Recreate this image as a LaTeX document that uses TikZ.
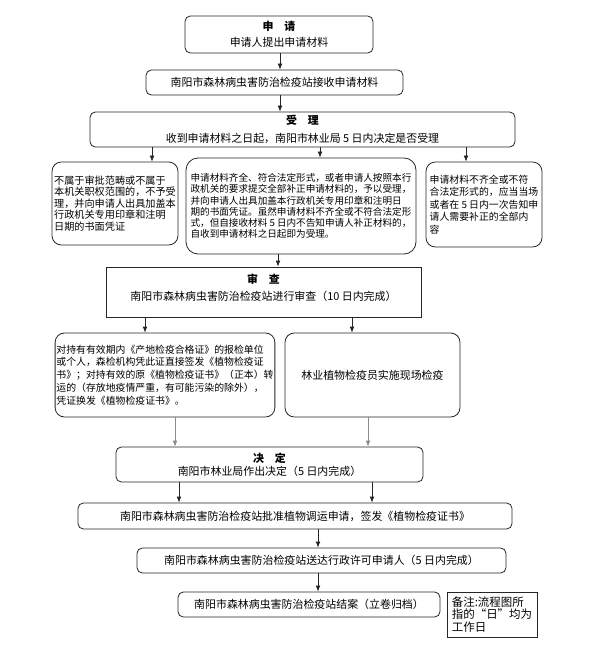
\documentclass[tikz,border=0pt]{standalone}
\usepackage{fontspec}
\setmainfont{Noto Sans CJK SC}
\usetikzlibrary{arrows.meta,positioning,calc}
\definecolor{ink}{HTML}{262626}
\definecolor{pale}{HTML}{8C8C8C}

\begin{document}
\begin{tikzpicture}[x=0.75pt,y=-0.75pt,
  box/.style={draw=ink,line width=0.6pt,rounded corners=4pt,align=center,inner sep=1pt,font=\fontsize{8.2}{12}\selectfont},
  note/.style={box,align=left,rounded corners=7pt,font=\fontsize{7.4}{8.7}\selectfont},
  plain/.style={box,rounded corners=0pt},
  link/.style={draw=ink,line width=0.6pt,-{Latex[length=4.5pt,width=3.6pt]}},
  ghost/.style={link,draw=pale}]
\useasboundingbox (0,0) rectangle (600,652);
% application and acceptance
\node[box,minimum width=141pt,minimum height=27.75pt] (shenqing) at (279,34.5) {\textbf{申\hspace{1em}请}\\申请人提出申请材料};
\node[box,minimum width=192.75pt,minimum height=18.75pt] (jieshou) at (274.5,82.5) {南阳市森林病虫害防治检疫站接收申请材料};
\node[box,minimum width=318.75pt,minimum height=26.25pt,font=\fontsize{8.2}{13.5}\selectfont] (shouli) at (302.5,129.5) {\textbf{受\hspace{1em}理}\\收到申请材料之日起，南阳市林业局 5 日内决定是否受理};
\node[note,minimum width=94.5pt,minimum height=62.25pt,font=\fontsize{7.6}{8.7}\selectfont] (buyu) at (115,203.5) {不属于审批范畴或不属于\\本机关职权范围的，不予受\\理，并向申请人出具加盖本\\行政机关专用印章和注明\\日期的书面凭证};
\node[note,minimum width=172.5pt,minimum height=72pt,rounded corners=9pt,font=\fontsize{7.2}{8.4}\selectfont] (shouliok) at (301,206) {申请材料齐全、符合法定形式，或者申请人按照本行\\政机关的要求提交全部补正申请材料的，予以受理，\\并向申请人出具加盖本行政机关专用印章和注明日\\期的书面凭证。虽然申请材料不齐全或不符合法定形\\式，但自接收材料 5 日内不告知申请人补正材料的，\\自收到申请材料之日起即为受理。};
\node[note,minimum width=87pt,minimum height=63.75pt,font=\fontsize{7.4}{9.3}\selectfont] (buzheng) at (484,204.5) {申请材料不齐全或不符\\合法定形式的，应当当场\\或者在 5 日内一次告知申\\请人需要补正的全部内\\容};
% review
\node[plain,minimum width=236.25pt,minimum height=37.5pt,
  label={[font=\fontsize{8.2}{12.5}\selectfont,align=center,anchor=north,yshift=-2pt]north:{\textbf{审\hspace{1em}查}\\南阳市森林病虫害防治检疫站进行审查（10 日内完成）}}] (shencha) at (263.5,292) {};
\node[note,minimum width=162pt,minimum height=63pt,font=\fontsize{7.4}{9.6}\selectfont] (jianyi) at (165,375) {对持有有效期内《产地检疫合格证》的报检单位\\或个人，森检机构凭此证直接签发《植物检疫证\\书》；对持有效的原《植物检疫证书》（正本）转\\运的（存放地疫情严重，有可能污染的除外），\\凭证换发《植物检疫证书》。};
\node[box,minimum width=131.25pt,minimum height=63pt,rounded corners=7pt] (xianchang) at (372.5,375) {林业植物检疫员实施现场检疫};
% decision and issue
\node[box,minimum width=230.25pt,minimum height=26.25pt,font=\fontsize{8.2}{10}\selectfont] (jueding) at (269.5,464.5) {\textbf{决\hspace{1em}定}\\南阳市林业局作出决定（5 日内完成）};
\node[box,minimum width=325.5pt,minimum height=19.5pt] (pizhun) at (295,516) {南阳市森林病虫害防治检疫站批准植物调运申请，签发《植物检疫证书》};
\node[box,minimum width=276.75pt,minimum height=18.75pt] (songda) at (321.5,560.5) {南阳市森林病虫害防治检疫站送达行政许可申请人（5 日内完成）};
\node[box,minimum width=196.5pt,minimum height=18.75pt] (jiean) at (309,604.5) {南阳市森林病虫害防治检疫站结案（立卷归档）};
\node[plain,align=left,minimum width=67.5pt,minimum height=33.75pt,font=\fontsize{8.6}{9.2}\selectfont] (beizhu) at (492,614.5) {备注:流程图所\\指的“日”均为\\工作日};
% connectors
\draw[link] (shenqing.south -| 280,0) -- (jieshou.north -| 280,0);
\draw[link] (jieshou.south -| 280,0) -- (shouli.north -| 280,0);
\foreach \tx/\dst in {152/buyu,320/shouliok,466/buzheng}
  \draw[link] (shouli.south -| \tx,0) -- (\dst.north -| \tx,0);
\draw[link] (shouliok.south -| 278,0) -- (shencha.north -| 278,0);
\draw[link] (shencha.south -| 145,0) -- (jianyi.north -| 145,0);
\draw[link] (shencha.south -| 352,0) -- (xianchang.north -| 352,0);
\draw[ghost] (jianyi.south -| 175,0) -- (jueding.north -| 175,0);
\draw[ghost] (xianchang.south -| 368,0) -- (jueding.north -| 368,0);
\foreach \tx in {179,372}
  \draw[link] (jueding.south -| \tx,0) -- (pizhun.north -| \tx,0);
\draw[link] (pizhun.south -| 318,0) -- (songda.north -| 318,0);
\draw[link] (songda.south -| 318,0) -- (jiean.north -| 318,0);
\end{tikzpicture}
\end{document}
